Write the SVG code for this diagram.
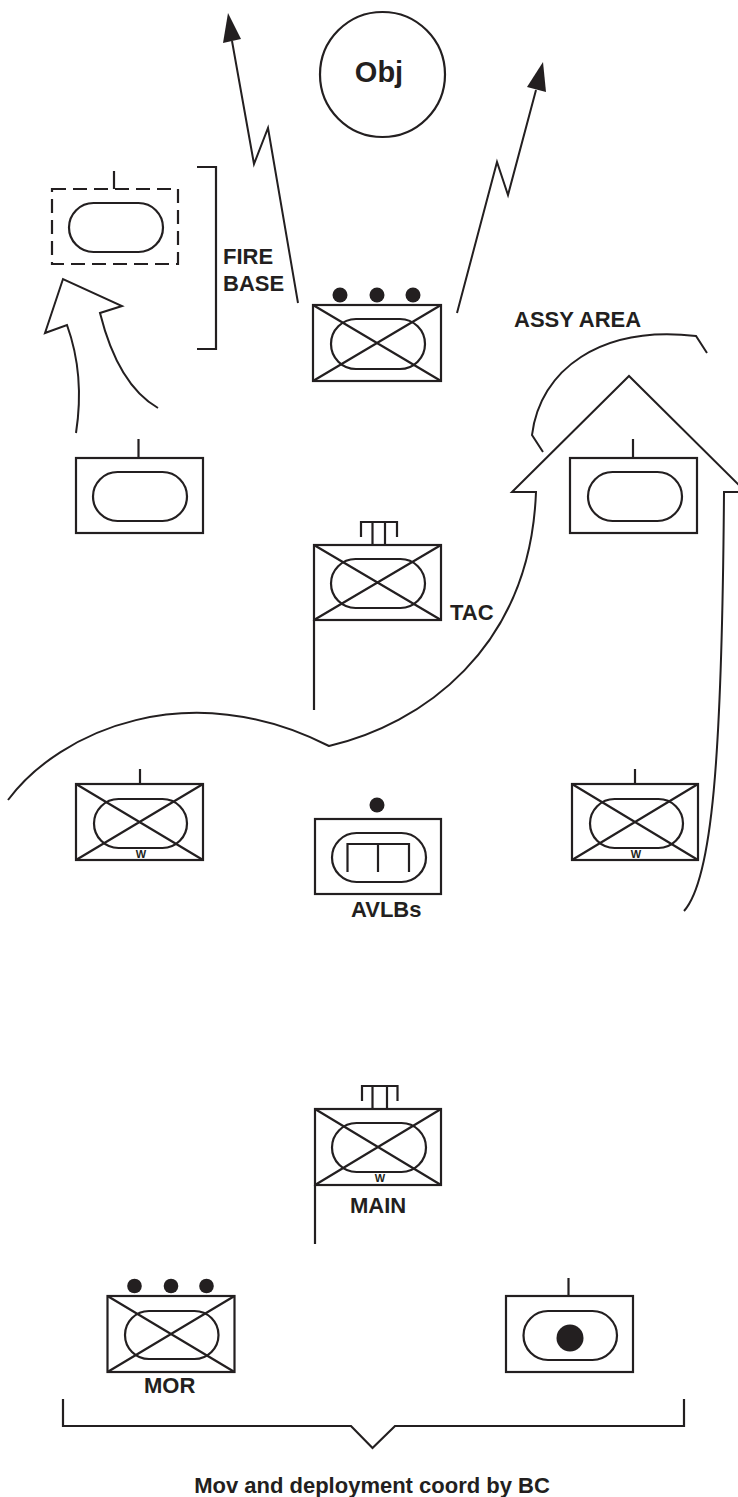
<svg xmlns="http://www.w3.org/2000/svg" width="738" height="1497" viewBox="0 0 738 1497">
<style>
.s{fill:none;stroke:#231f20;stroke-width:2.2;stroke-linejoin:miter}
.c{fill:none;stroke:#231f20;stroke-width:2}
.d{fill:none;stroke:#231f20;stroke-width:2.2;stroke-dasharray:14 7}
.f{fill:#231f20;stroke:none}
.t{font-family:"Liberation Sans",Arial,sans-serif;font-weight:bold;fill:#231f20;font-size:22px}
.w{font-family:"Liberation Sans",Arial,sans-serif;font-weight:bold;fill:#231f20;font-size:11px;text-anchor:middle}
</style>
<rect width="738" height="1497" fill="#fff"/>
<g id="connectors">
<path class="c" d="M298,303 L268,128 L254,164 L232,41"/>
<polygon class="f" points="228,13 223,43 241,39"/>
<path class="c" d="M457,313 L497,162 L508,195 L536,90"/>
<polygon class="f" points="543,62 527,87 546,92"/>
<path class="c" d="M76,433 Q85,375 67,325 L45,333 L63,279 L122,306 L100,313 Q118,385 158,408"/>
<path class="c" d="M8,800 C60,730 190,675 329,746 C420,725 530,650 536,492 H512 L629,376 L746,492 H724 C722,760 712,880 684,911"/>
<path class="c" d="M543,452 L532,435 C540,370 600,325 696,336 L707,353"/>
<path class="s" d="M197,167 H216 V349 H197"/>
<path class="s" d="M63,1399 V1426 H351 L372.5,1448 L395,1426 H684 V1399"/>
</g>
<g id="obj">
<circle class="s" cx="382.5" cy="74.5" r="62.5"/>
<text class="t" x="379" y="82" font-size="29" text-anchor="middle" style="font-size:29px">Obj</text>
</g>
<g id="firebase">
<rect class="d" x="52" y="189" width="126" height="75"/>
<line class="s" x1="114" y1="171" x2="114" y2="189"/>
<rect class="s" x="69" y="203" width="94" height="49" rx="24.5"/>
<text class="t" x="223" y="264">FIRE</text>
<text class="t" x="223" y="291">BASE</text>
</g>
<g id="lead-unit">
<circle class="f" cx="340" cy="295" r="7.5"/>
<circle class="f" cx="377" cy="295" r="7.5"/>
<circle class="f" cx="413" cy="295" r="7.5"/>
<rect class="s" x="313" y="305" width="128" height="76"/>
<rect class="s" x="331" y="319" width="94" height="50" rx="25"/>
<path class="s" d="M313,305 L441,381 M313,381 L441,305"/>
</g>
<g id="assy-label">
<text class="t" x="514" y="327">ASSY AREA</text>
</g>
<g id="unit-left">
<line class="s" x1="138.5" y1="439" x2="138.5" y2="458"/>
<rect class="s" x="76" y="458" width="127" height="75"/>
<rect class="s" x="93" y="472" width="94" height="49" rx="24.5"/>
</g>
<g id="unit-assy">
<line class="s" x1="633" y1="439" x2="633" y2="458"/>
<rect class="s" x="570" y="458" width="127" height="75"/>
<rect class="s" x="588" y="472" width="94" height="49" rx="24.5"/>
</g>
<g id="tac">
<path class="s" d="M361,537 V522 H397 V537 M372.5,522 V545 M385,522 V545"/>
<rect class="s" x="314" y="545" width="127" height="75"/>
<rect class="s" x="331" y="559" width="94" height="49" rx="24.5"/>
<path class="s" d="M314,545 L441,620 M314,620 L441,545"/>
<line class="s" x1="314" y1="620" x2="314" y2="710"/>
<text class="t" x="450" y="620">TAC</text>
</g>
<g id="mech-left">
<line class="s" x1="140" y1="769" x2="140" y2="784"/>
<rect class="s" x="76" y="784" width="127" height="76"/>
<rect class="s" x="94" y="799" width="93" height="49" rx="24.5"/>
<path class="s" d="M76,784 L203,860 M76,860 L203,784"/>
<text class="w" x="141" y="858">W</text>
</g>
<g id="avlb">
<circle class="f" cx="377" cy="805" r="7.5"/>
<rect class="s" x="315" y="819" width="126" height="75"/>
<rect class="s" x="332" y="833" width="94" height="49" rx="24.5"/>
<path class="s" d="M347.5,872 V844 H409 V872 M378,844 V872"/>
<text class="t" x="351" y="917">AVLBs</text>
</g>
<g id="mech-right">
<line class="s" x1="635" y1="769" x2="635" y2="784"/>
<rect class="s" x="572" y="784" width="126" height="76"/>
<rect class="s" x="590" y="799" width="93" height="49" rx="24.5"/>
<path class="s" d="M572,784 L698,860 M572,860 L698,784"/>
<text class="w" x="636" y="858">W</text>
</g>
<g id="main">
<path class="s" d="M362,1101 V1086 H397.5 V1101 M372.5,1086 V1109 M387,1086 V1109"/>
<rect class="s" x="315" y="1109" width="126" height="76"/>
<rect class="s" x="332" y="1123" width="94" height="49" rx="24.5"/>
<path class="s" d="M315,1109 L441,1185 M315,1185 L441,1109"/>
<text class="w" x="380" y="1182">W</text>
<line class="s" x1="315" y1="1185" x2="315" y2="1244"/>
<text class="t" x="350" y="1213">MAIN</text>
</g>
<g id="mor">
<circle class="f" cx="134.5" cy="1286" r="7.3"/>
<circle class="f" cx="171" cy="1286" r="7.3"/>
<circle class="f" cx="206.5" cy="1286" r="7.3"/>
<rect class="s" x="107.5" y="1296" width="127" height="76"/>
<rect class="s" x="125" y="1311" width="93.5" height="48" rx="24"/>
<path class="s" d="M107.5,1296 L234.5,1372 M107.5,1372 L234.5,1296"/>
<text class="t" x="144" y="1393">MOR</text>
</g>
<g id="support">
<line class="s" x1="568.5" y1="1278" x2="568.5" y2="1296"/>
<rect class="s" x="506" y="1296" width="127" height="76"/>
<rect class="s" x="523.5" y="1311" width="93.5" height="49" rx="24.5"/>
<circle class="f" cx="570" cy="1338" r="13.5"/>
</g>
<g id="caption">
<text class="t" x="372" y="1493" text-anchor="middle">Mov and deployment coord by BC</text>
</g>
</svg>
